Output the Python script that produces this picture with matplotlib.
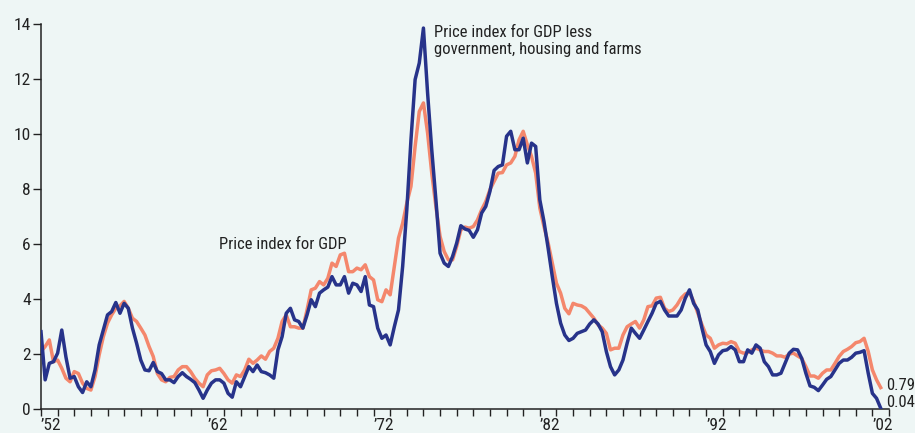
import numpy as np
import matplotlib
matplotlib.use("Agg")
import matplotlib.pyplot as plt

plt.rcParams['font.family'] = ['Roboto Condensed', 'Liberation Sans Narrow', 'Liberation Sans', 'DejaVu Sans']

# quarterly, 1952Q1 .. 2002Q3, four-quarter % change
start_year = 1952.0
gdp = [2.1, 2.28, 2.52, 1.73, 1.79, 1.49, 1.13, 1.0, 1.37, 1.3,
       0.95, 0.76, 0.7, 1.19, 1.98, 2.64, 3.13, 3.43, 3.67, 3.76,
       3.92, 3.67, 3.31, 3.19, 2.95, 2.7, 2.28, 1.92, 1.3, 1.07,
       1.0, 1.16, 1.19, 1.43, 1.55, 1.55, 1.37, 1.13, 0.95, 0.82,
       1.25, 1.4, 1.43, 1.49, 1.3, 1.07, 0.95, 1.25, 1.19, 1.43,
       1.82, 1.67, 1.79, 1.94, 1.82, 2.1, 2.22, 2.58, 3.19, 3.43,
       3.0, 3.0, 2.95, 2.95, 3.61, 4.34, 4.4, 4.64, 4.52, 4.76,
       5.31, 5.19, 5.61, 5.67, 5.0, 5.0, 5.13, 5.07, 5.25, 4.82,
       4.7, 3.98, 3.91, 4.34, 4.16, 5.19, 6.22, 6.76, 7.49, 8.1,
       9.55, 10.82, 11.13, 10.04, 8.58, 7.37, 6.28, 5.73, 5.43, 5.43,
       5.92, 6.52, 6.62, 6.58, 6.64, 6.88, 7.25, 7.55, 7.98, 8.28,
       8.58, 8.6, 8.88, 8.95, 9.19, 9.79, 10.1, 9.61, 9.19, 8.58,
       7.31, 6.64, 6.04, 5.31, 4.58, 4.22, 3.67, 3.47, 3.85, 3.79,
       3.76, 3.67, 3.49, 3.31, 3.07, 2.95, 2.76, 2.16, 2.22, 2.22,
       2.7, 3.0, 3.1, 3.19, 2.95, 3.25, 3.73, 3.76, 4.04, 4.07,
       3.67, 3.55, 3.61, 3.79, 4.04, 4.19, 4.24, 3.92, 3.49, 3.07,
       2.7, 2.58, 2.22, 2.34, 2.4, 2.38, 2.46, 2.4, 2.1, 2.04,
       2.06, 2.16, 2.22, 2.16, 2.1, 2.1, 2.04, 1.94, 1.94, 1.89,
       2.01, 2.04, 1.94, 1.85, 1.55, 1.21, 1.21, 1.13, 1.31, 1.43,
       1.43, 1.67, 1.92, 2.1, 2.18, 2.28, 2.42, 2.46, 2.58, 2.1,
       1.43, 1.07, 0.79]
gdp_less = [2.82, 1.07, 1.67, 1.73, 2.04, 2.88, 1.9, 1.13, 1.19, 0.82,
            0.61, 1.0, 0.82, 1.43, 2.34, 2.88, 3.43, 3.55, 3.88, 3.49,
            3.85, 3.67, 2.95, 2.4, 1.79, 1.43, 1.4, 1.7, 1.37, 1.3,
            1.07, 1.07, 0.97, 1.19, 1.33, 1.19, 1.09, 0.97, 0.7, 0.4,
            0.7, 0.95, 1.07, 1.07, 0.95, 0.58, 0.44, 1.0, 0.82, 1.19,
            1.55, 1.37, 1.61, 1.37, 1.33, 1.25, 1.13, 2.16, 2.64, 3.49,
            3.67, 3.25, 3.19, 2.95, 3.43, 3.98, 3.73, 4.22, 4.34, 4.44,
            4.82, 4.52, 4.52, 4.82, 4.22, 4.58, 4.52, 4.28, 4.82, 3.79,
            3.73, 2.95, 2.58, 2.7, 2.34, 3.0, 3.61, 5.19, 7.25, 9.79,
            11.98, 12.58, 13.85, 11.49, 9.43, 7.61, 5.67, 5.31, 5.19, 5.55,
            6.04, 6.67, 6.55, 6.5, 6.25, 6.52, 7.13, 7.37, 7.92, 8.68,
            8.82, 8.88, 9.92, 10.1, 9.43, 9.43, 9.85, 8.95, 9.67, 9.55,
            7.61, 6.82, 5.85, 4.82, 3.85, 3.13, 2.7, 2.5, 2.58, 2.76,
            2.82, 2.88, 3.1, 3.25, 3.1, 2.82, 2.1, 1.55, 1.25, 1.43,
            1.79, 2.4, 2.95, 2.76, 2.58, 2.88, 3.19, 3.49, 3.85, 3.92,
            3.61, 3.39, 3.39, 3.39, 3.61, 4.04, 4.34, 3.85, 3.61, 2.95,
            2.34, 2.1, 1.67, 1.98, 2.13, 2.16, 2.28, 2.16, 1.73, 1.73,
            2.16, 2.04, 2.34, 2.22, 1.73, 1.55, 1.25, 1.25, 1.31, 1.67,
            2.04, 2.18, 2.16, 1.85, 1.31, 0.85, 0.8, 0.68, 0.88, 1.09,
            1.19, 1.43, 1.67, 1.79, 1.79, 1.89, 2.04, 2.07, 2.13, 1.31,
            0.58, 0.4, 0.04]
x_labels = ["\u201952", "\u201962", "\u201972", "\u201982", "\u201992", "\u201902"]

t = start_year + 0.25 * np.arange(len(gdp))

bg = "#EEF6F5"
fig = plt.figure(figsize=(9.15, 4.33), dpi=100, facecolor=bg)
ax = fig.add_axes([0.0448, 0.0547, 0.9268, 0.890], facecolor=bg)

ax.plot(t, gdp, color="#F4876C", lw=2.5, solid_joinstyle="round", zorder=2)
ax.plot(t, gdp_less, color="#27338A", lw=2.5, solid_joinstyle="round", zorder=3)

ax.set_xlim(1952, 2003)
ax.set_ylim(0, 14)
ax.set_yticks(range(0, 15, 2))
ax.set_xticks(range(1952, 2003, 10))
ax.set_xticklabels(x_labels, ha="left")
ax.set_xticks(range(1952, 2004), minor=True)

for s in ["top", "right"]:
    ax.spines[s].set_visible(False)
for s in ["left", "bottom"]:
    ax.spines[s].set_linewidth(1.1)
    ax.spines[s].set_color("#222222")

ax.tick_params(axis="both", which="both", direction="out", color="#222222",
               width=1.0, labelsize=12.5, labelcolor="#222222")
ax.tick_params(axis="x", which="both", length=5, pad=1.0)
ax.tick_params(axis="y", length=5.5, pad=2)

ax.text(1962.71, 5.97, "Price index for GDP", fontsize=12, color="#222222",
        ha="left", va="center")
ax.text(1975.65, 13.95, "Price index for GDP less\ngovernment, housing and farms",
        fontsize=12, color="#222222", ha="left", va="top", linespacing=1.05)
ax.text(2002.84, 0.85, "0.79", fontsize=12, color="#222222", ha="left",
        va="center", clip_on=False)
ax.text(2002.84, 0.23, "0.04", fontsize=12, color="#222222", ha="left",
        va="center", clip_on=False)

fig.savefig("out.png", dpi=100, facecolor=bg)
